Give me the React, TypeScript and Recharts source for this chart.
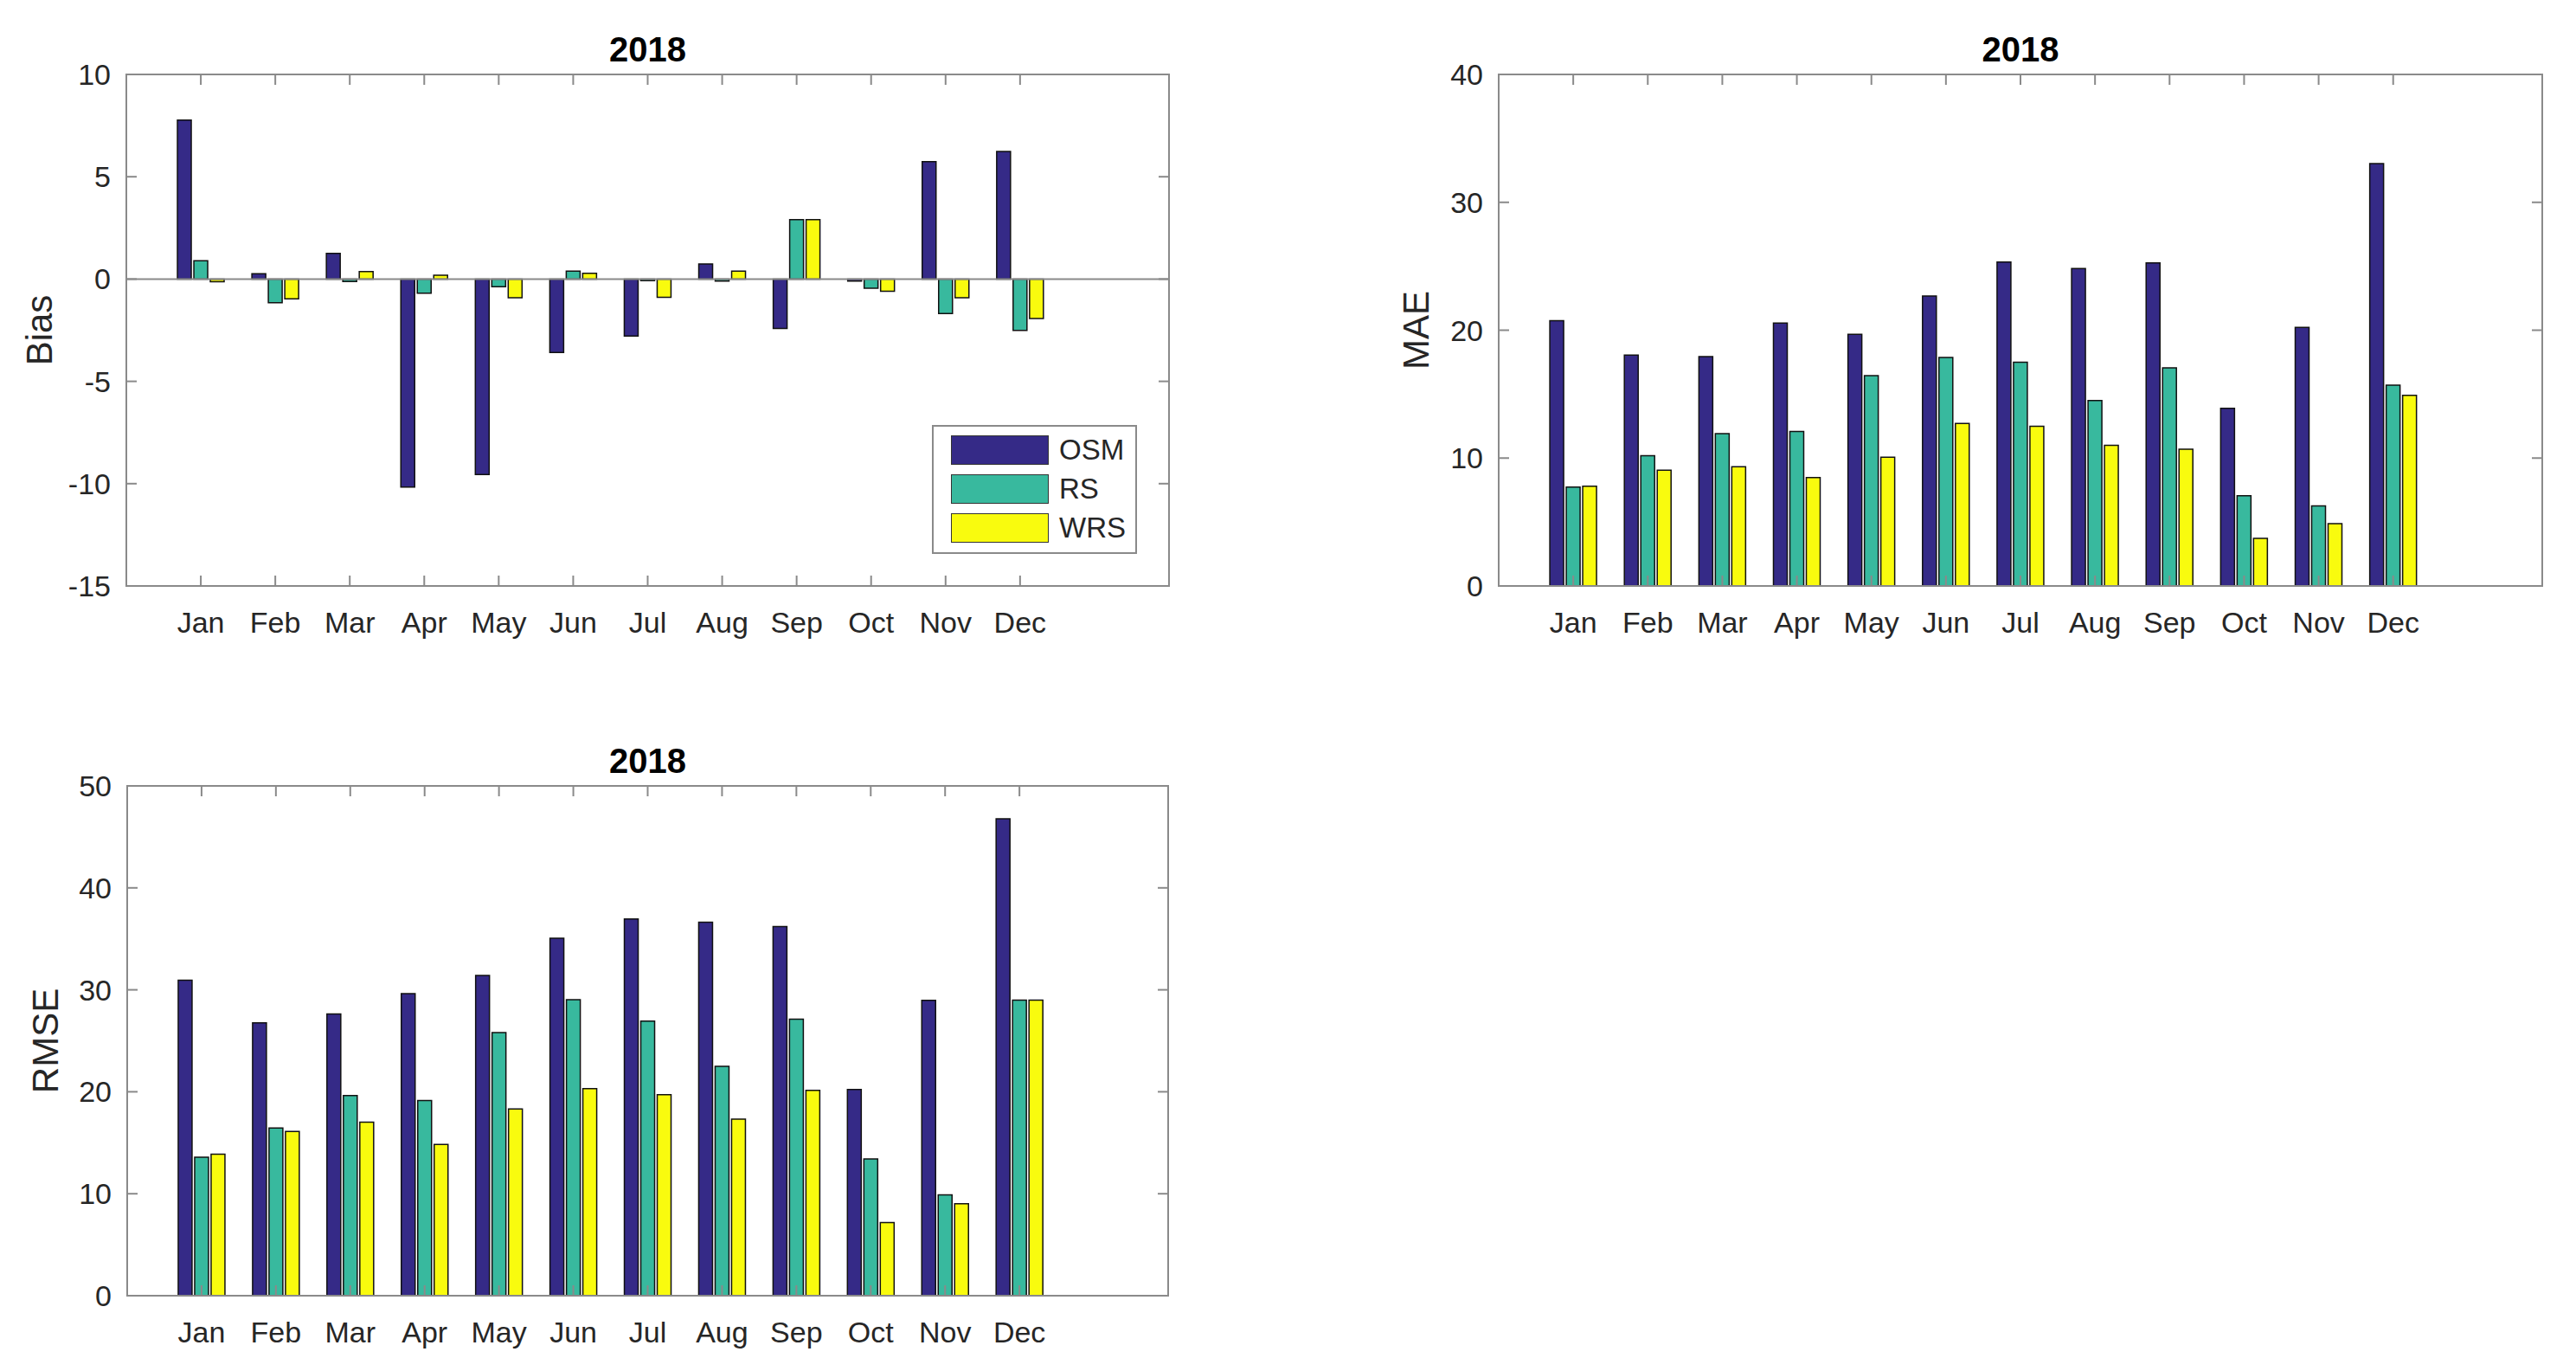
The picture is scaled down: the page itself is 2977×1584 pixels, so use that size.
import React from "react";
import { BarChart, Bar, XAxis, YAxis, ReferenceLine, ReferenceArea } from "recharts";

const MONTHS = ["Jan", "Feb", "Mar", "Apr", "May", "Jun", "Jul", "Aug", "Sep", "Oct", "Nov", "Dec"];
const MONTH_TICKS = MONTHS.map((_, i) => i + 1);
const X_DOMAIN: [number, number] = [0, 14];

const SERIES = [
  { key: "OSM", color: "#352A87" },
  { key: "RS", color: "#38B99E" },
  { key: "WRS", color: "#F9FB0E" },
];

// Bias
const BIAS_OSM = [7.77, 0.26, 1.25, -10.17, -9.55, -3.59, -2.79, 0.74, -2.42, -0.1, 5.74, 6.23];
const BIAS_RS = [0.89, -1.16, -0.12, -0.69, -0.37, 0.39, -0.08, -0.1, 2.9, -0.45, -1.69, -2.51];
const BIAS_WRS = [-0.13, -0.97, 0.37, 0.19, -0.91, 0.28, -0.89, 0.39, 2.9, -0.6, -0.91, -1.93];
const BIAS_TICKS = [-15, -10, -5, 0, 5, 10];

// MAE
const MAE_OSM = [20.75, 18.06, 17.93, 20.55, 19.68, 22.67, 25.33, 24.82, 25.26, 13.89, 20.22, 33.03];
const MAE_RS = [7.74, 10.19, 11.91, 12.08, 16.45, 17.86, 17.49, 14.5, 17.05, 7.06, 6.26, 15.71];
const MAE_WRS = [7.8, 9.05, 9.32, 8.48, 10.06, 12.71, 12.48, 11.0, 10.7, 3.73, 4.88, 14.9];
const MAE_TICKS = [0, 10, 20, 30, 40];

// RMSE
const RMSE_OSM = [30.94, 26.76, 27.63, 29.62, 31.4, 35.05, 36.95, 36.62, 36.21, 20.22, 28.96, 46.77];
const RMSE_RS = [13.59, 16.45, 19.64, 19.14, 25.81, 29.04, 26.93, 22.49, 27.13, 13.42, 9.9, 29.0];
const RMSE_WRS = [13.88, 16.11, 17.03, 14.83, 18.31, 20.3, 19.72, 17.32, 20.13, 7.17, 9.03, 29.0];
const RMSE_TICKS = [0, 10, 20, 30, 40, 50];

const FONT = '"Liberation Sans", Arial, Helvetica, sans-serif';
const AXIS = "#8a8a8a";
const TEXT = "#262626";
const TICK_LEN = 12;

const Y_AXIS_W = 140;
const TOP_M = 90;
const RIGHT_M = 20;
const X_AXIS_H = 90;

const XTick = (props: any) => {
  const { x, payload, plotTop, plotBottom } = props;
  return (
    <g>
      <line x1={x} x2={x} y1={plotBottom} y2={plotBottom - TICK_LEN} stroke={AXIS} strokeWidth={2} />
      <line x1={x} x2={x} y1={plotTop} y2={plotTop + TICK_LEN} stroke={AXIS} strokeWidth={2} />
      <text x={x} y={plotBottom + 54} textAnchor="middle" fontSize={34} fontFamily={FONT} fill={TEXT}>
        {MONTHS[payload.value - 1]}
      </text>
    </g>
  );
};

const YTick = (props: any) => {
  const { y, payload, plotLeft, plotRight } = props;
  return (
    <g>
      <line x1={plotLeft} x2={plotLeft + TICK_LEN} y1={y} y2={y} stroke={AXIS} strokeWidth={2} />
      <line x1={plotRight} x2={plotRight - TICK_LEN} y1={y} y2={y} stroke={AXIS} strokeWidth={2} />
      <text x={plotLeft - 18} y={y + 12} textAnchor="end" fontSize={34} fontFamily={FONT} fill={TEXT}>
        {payload.value}
      </text>
    </g>
  );
};

type PanelProps = {
  label: string;
  left: number;
  top: number;
  right: number;
  bottom: number;
  labelX: number;
  domain: [number, number];
  ticks: number[];
  osm: number[];
  rs: number[];
  wrs: number[];
  zeroLine?: boolean;
};

const Panel = (p: PanelProps) => {
  const width = p.right - p.left + Y_AXIS_W + RIGHT_M;
  const height = p.bottom - p.top + TOP_M + X_AXIS_H;
  const plotLeft = Y_AXIS_W;
  const plotTop = TOP_M;
  const plotRight = width - RIGHT_M;
  const plotBottom = height - X_AXIS_H;
  const data = MONTHS.map((m, i) => ({ x: i + 1, month: m, OSM: p.osm[i], RS: p.rs[i], WRS: p.wrs[i] }));

  return (
    <div style={{ position: "absolute", left: p.left - Y_AXIS_W, top: p.top - TOP_M }}>
      <BarChart
        width={width}
        height={height}
        data={data}
        margin={{ top: TOP_M, right: RIGHT_M, bottom: 0, left: 0 }}
        barSize={16}
        barGap={3}
      >
        <XAxis
          type="number"
          dataKey="x"
          domain={X_DOMAIN}
          ticks={MONTH_TICKS}
          interval={0}
          height={X_AXIS_H}
          axisLine={{ stroke: AXIS, strokeWidth: 2 }}
          tickLine={false}
          tick={(t: any) => <XTick {...t} plotTop={plotTop} plotBottom={plotBottom} />}
        />
        <YAxis
          type="number"
          domain={p.domain}
          ticks={p.ticks}
          interval={0}
          width={Y_AXIS_W}
          axisLine={{ stroke: AXIS, strokeWidth: 2 }}
          tickLine={false}
          tick={(t: any) => <YTick {...t} plotLeft={plotLeft} plotRight={plotRight} />}
          label={{
            value: p.label,
            angle: -90,
            position: "insideLeft",
            offset: p.labelX - (p.left - Y_AXIS_W),
            style: { textAnchor: "middle", fontSize: 42, fontFamily: FONT, fill: TEXT },
          }}
        />
        {/* axes box + title */}
        <ReferenceArea
          x1={X_DOMAIN[0]}
          x2={X_DOMAIN[1]}
          y1={p.domain[0]}
          y2={p.domain[1]}
          fill="none"
          fillOpacity={0}
          stroke={AXIS}
          strokeWidth={2}
          label={{
            value: "2018",
            position: "top",
            offset: 15,
            style: { fontSize: 40, fontWeight: 700, fontFamily: FONT, fill: "#000" },
          }}
        />
        {p.zeroLine && <ReferenceLine y={0} stroke={AXIS} strokeWidth={2} />}
        {SERIES.map((s) => (
          <Bar
            key={s.key}
            dataKey={s.key}
            fill={s.color}
            stroke="#111"
            strokeWidth={1.5}
            isAnimationActive={false}
          />
        ))}
      </BarChart>
    </div>
  );
};

const LegendBox = ({ left, top }: { left: number; top: number }) => (
  <div
    style={{
      position: "absolute",
      left,
      top,
      width: 233,
      height: 145,
      border: `2px solid ${AXIS}`,
      background: "#fff",
      boxSizing: "content-box",
    }}
  >
    {SERIES.map((s, i) => (
      <div
        key={s.key}
        style={{ position: "absolute", left: 20, top: 10 + i * 45, height: 34, display: "flex", alignItems: "center" }}
      >
        <div
          style={{
            width: 111,
            height: 32,
            background: s.color,
            border: "1.5px solid #333",
          }}
        />
        <span style={{ marginLeft: 12, fontSize: 33, fontFamily: FONT, color: TEXT, lineHeight: "34px" }}>
          {s.key}
        </span>
      </div>
    ))}
  </div>
);

export default function App() {
  return (
    <div style={{ position: "absolute", left: 0, top: 0, width: 2977, height: 1584, background: "#fff" }}>
      <Panel
        label="Bias"
        left={146}
        top={86}
        right={1351}
        bottom={677}
        labelX={45}
        domain={[-15, 10]}
        ticks={BIAS_TICKS}
        osm={BIAS_OSM}
        rs={BIAS_RS}
        wrs={BIAS_WRS}
        zeroLine
      />
      <Panel
        label="MAE"
        left={1732}
        top={86}
        right={2938}
        bottom={677}
        labelX={1636}
        domain={[0, 40]}
        ticks={MAE_TICKS}
        osm={MAE_OSM}
        rs={MAE_RS}
        wrs={MAE_WRS}
      />
      <Panel
        label="RMSE"
        left={147}
        top={908}
        right={1350}
        bottom={1497}
        labelX={52}
        domain={[0, 50]}
        ticks={RMSE_TICKS}
        osm={RMSE_OSM}
        rs={RMSE_RS}
        wrs={RMSE_WRS}
      />
      <LegendBox left={1077} top={491} />
    </div>
  );
}
